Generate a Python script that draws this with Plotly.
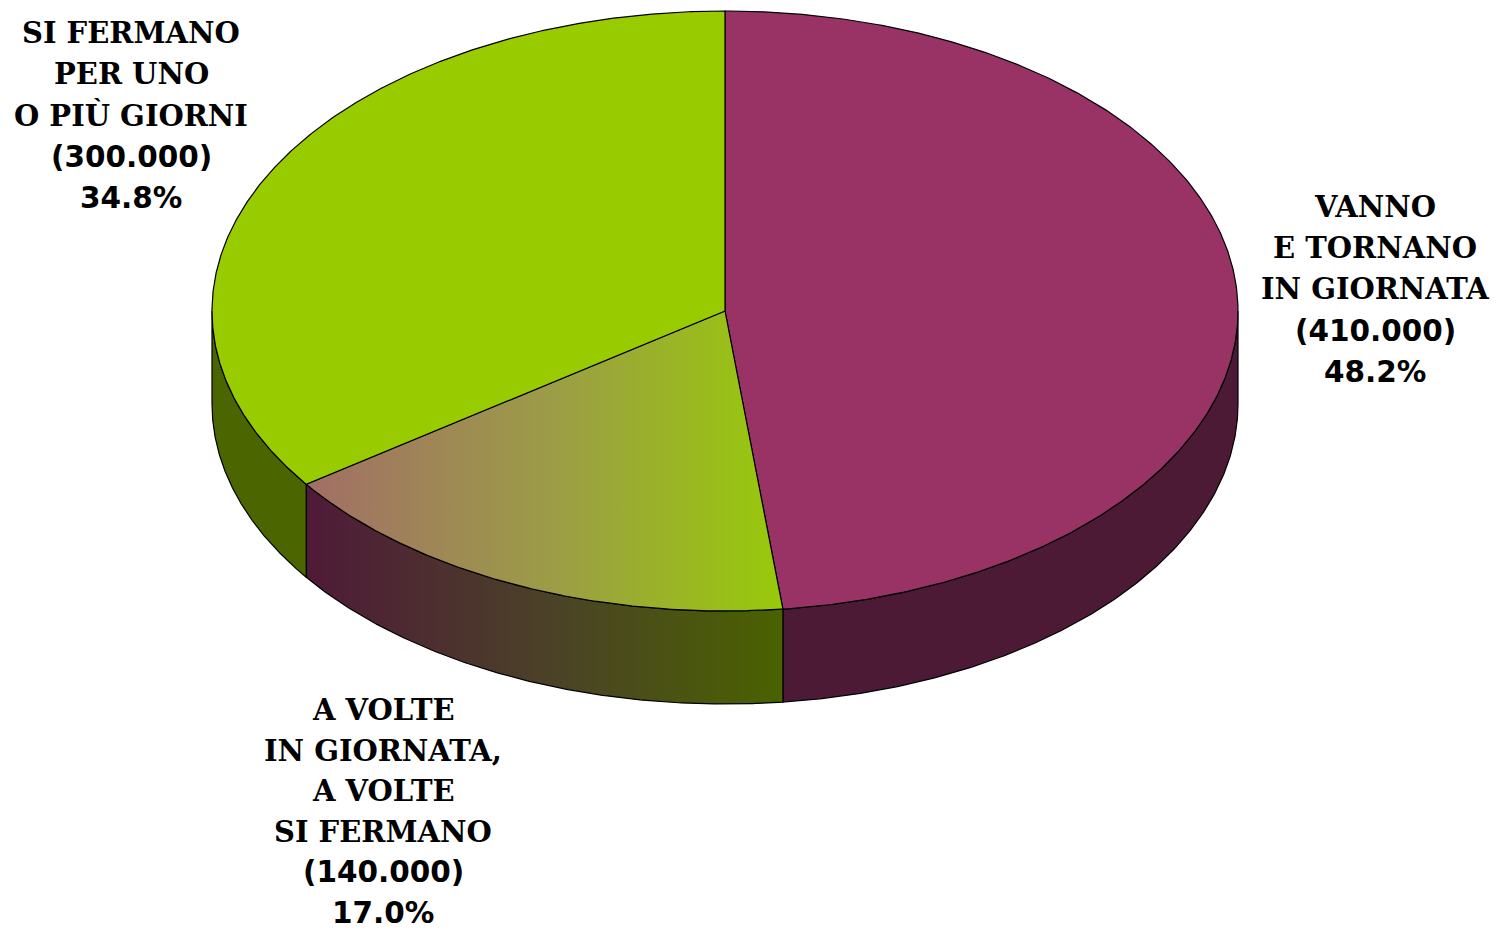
import numpy as np
import plotly.graph_objects as go

# ---- data ----
categories = ["VANNO E TORNANO IN GIORNATA",
              "A VOLTE IN GIORNATA, A VOLTE SI FERMANO",
              "SI FERMANO PER UNO O PIÙ GIORNI"]
label_lines = [["VANNO", "E TORNANO", "IN GIORNATA"],
               ["A VOLTE", "IN GIORNATA,", "A VOLTE", "SI FERMANO"],
               ["SI FERMANO", "PER UNO", "O PIÙ GIORNI"]]
counts = [410000, 140000, 300000]
percents = [48.2, 17.0, 34.8]

# ---- style / geometry (pixels) ----
W, H = 1496, 933
CX, CY, RX, RY, DEPTH = 725, 311, 513, 300, 93
top_colors = ["#993366", None, "#99CC00"]
side_colors = ["#4D1A36", None, "#4B6500"]
grad_top = [[0, "#A26E66"], [0.5, "#9C9B48"], [1, "#98CA0A"]]
grad_side = [[0, "#4F1A38"], [0.5, "#4B4128"], [1, "#4A6200"]]
label_pos = [(1375, 207, 41.2), (383, 710, 40.6), (131, 33, 41.2)]
TEXT_FONT = "DejaVu Serif"
NUM_FONT = "DejaVu Sans"
FS_TEXT = 29
FS_NUM = 29.5


def pt(theta, dy=0.0):
    return CX + RX * np.sin(theta), CY - RY * np.cos(theta) + dy


fig = go.Figure()

# angles clockwise from 12 o'clock
cum = np.concatenate([[0], np.cumsum(percents)]) / 100.0 * 2 * np.pi
slices = [(cum[i], cum[i + 1]) for i in range(len(percents))]

# side walls (visible front half: pi/2 .. 3pi/2)
for i, (a0, a1) in enumerate(slices):
    s0, s1 = max(a0, np.pi / 2), min(a1, 3 * np.pi / 2)
    if s1 <= s0:
        continue
    t = np.linspace(s0, s1, 200)
    xt, yt = pt(t)
    xb, yb = pt(t[::-1], DEPTH)
    xs = np.concatenate([xt, xb, xt[:1]])
    ys = np.concatenate([yt, yb, yt[:1]])
    kw = {}
    if side_colors[i] is None:
        kw["fillgradient"] = dict(type="horizontal", colorscale=grad_side,
                                  start=float(xs.min()), stop=float(xs.max()))
    else:
        kw["fillcolor"] = side_colors[i]
    fig.add_trace(go.Scatter(x=xs, y=ys, mode="lines", fill="toself",
                             line=dict(color="black", width=1.2),
                             hoverinfo="skip", showlegend=False, **kw))

# top faces
for i, (a0, a1) in enumerate(slices):
    t = np.linspace(a0, a1, 400)
    xa, ya = pt(t)
    xs = np.concatenate([[CX], xa, [CX]])
    ys = np.concatenate([[CY], ya, [CY]])
    kw = {}
    if top_colors[i] is None:
        kw["fillgradient"] = dict(type="horizontal", colorscale=grad_top,
                                  start=float(xa.min()), stop=float(xa.max()))
    else:
        kw["fillcolor"] = top_colors[i]
    fig.add_trace(go.Scatter(x=xs, y=ys, mode="lines", fill="toself",
                             line=dict(color="black", width=1.2),
                             name=categories[i], hoverinfo="name",
                             showlegend=False, **kw))

# labels
for i in range(len(categories)):
    lines = list(label_lines[i])
    fonts = [(TEXT_FONT, FS_TEXT)] * len(lines)
    cnt = "({:,})".format(counts[i]).replace(",", ".")
    pct = "{:.1f}%".format(percents[i])
    lines += [cnt, pct]
    fonts += [(NUM_FONT, FS_NUM), (NUM_FONT, FS_NUM)]
    x0, y0, step = label_pos[i]
    for k, (txt, (fam, fs)) in enumerate(zip(lines, fonts)):
        fig.add_annotation(x=x0, y=y0 + k * step, xref="x", yref="y",
                           text="<b>" + txt + "</b>", showarrow=False,
                           xanchor="center", yanchor="middle",
                           font=dict(family=fam, size=fs, color="black"))

fig.update_xaxes(range=[0, W], visible=False, fixedrange=True)
fig.update_yaxes(range=[H, 0], visible=False, fixedrange=True)
fig.update_layout(width=W, height=H, margin=dict(l=0, r=0, t=0, b=0),
                  plot_bgcolor="white", paper_bgcolor="white",
                  showlegend=False)

fig.write_html("out.html", config={"displayModeBar": False},
               post_script="document.body.style.margin='0px';"
                           "document.body.style.overflow='hidden';")
